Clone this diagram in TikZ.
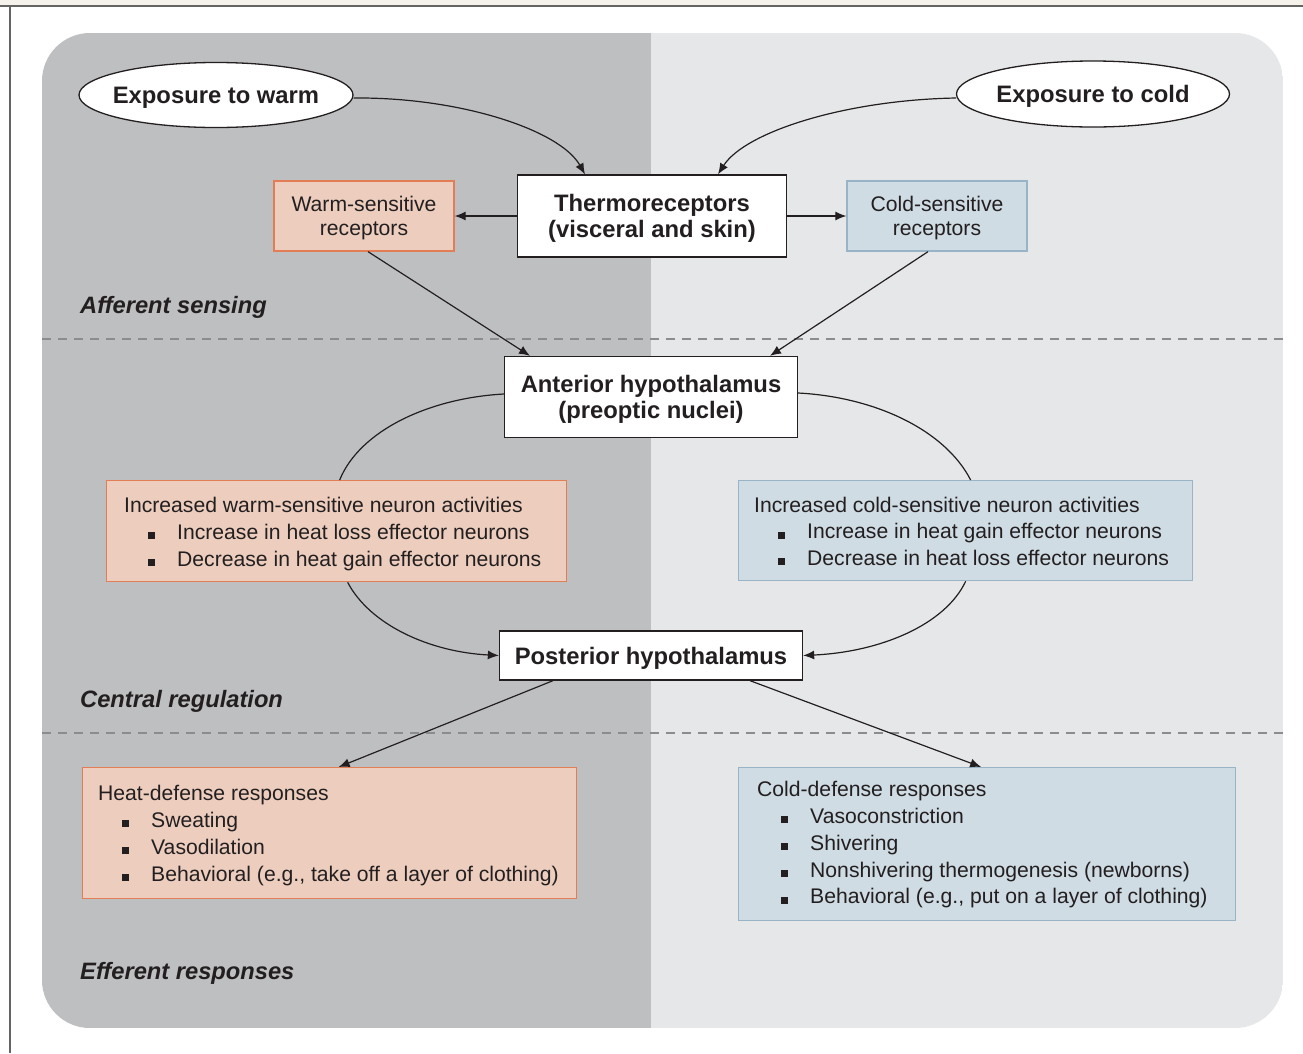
\documentclass[tikz,border=0pt]{standalone}
\usepackage{fontspec}
\setmainfont{Liberation Sans}
\usetikzlibrary{shapes.geometric,arrows.meta}
\definecolor{darkg}{RGB}{190,191,193}
\definecolor{lightg}{RGB}{230,231,232}
\definecolor{salfill}{RGB}{237,206,190}
\definecolor{salline}{RGB}{226,125,85}
\definecolor{bluefill}{RGB}{207,220,228}
\definecolor{blueline}{RGB}{152,180,198}
\definecolor{dashgray}{RGB}{140,140,140}
\definecolor{cream}{RGB}{244,242,234}
\definecolor{txtc}{RGB}{35,31,32}
\definecolor{framec}{RGB}{100,100,100}
\newcommand\regf{\fontsize{21.15}{26.8}\selectfont}
\newcommand\recf{\fontsize{21.15}{24.5}\selectfont}
\newcommand\boldf{\fontsize{23.8}{26.5}\selectfont\bfseries}
\newcommand\labf{\fontsize{23.7}{27}\selectfont\bfseries\itshape}
\newcommand\bulitem{\hspace*{24pt}\raisebox{0.3pt}{\rule{7pt}{7pt}}\hspace{22pt}}
\begin{document}
\begin{tikzpicture}[x=1pt,y=-1pt,
  every node/.style={text=txtc},
  whitebox/.style={draw=txtc, line width=1.3pt, fill=white, inner sep=0, align=center, font=\boldf, text depth=0pt},
  salbox/.style={draw=salline, line width=1.3pt, fill=salfill, inner sep=0, text depth=0pt},
  bluebox/.style={draw=blueline, line width=1.3pt, fill=bluefill, inner sep=0, text depth=0pt},
  oval/.style={ellipse, draw=txtc, line width=1.3pt, fill=white, inner sep=0, font=\boldf, text depth=0pt},
  boxtext/.style={anchor=west, align=left, inner sep=0, font=\regf, text depth=0pt},
  sectlabel/.style={anchor=base west, inner sep=0, font=\labf},
  conn/.style={draw=txtc, line width=1.2pt},
  arr/.style={conn, -{Latex[length=11pt,width=9pt]}},
  sepline/.style={draw=dashgray, line width=1.5pt, dash pattern=on 9pt off 7pt}
]
\useasboundingbox (0,0) rectangle (1303,1053);
\fill[white] (0,0) rectangle (1303,1053);
% top strip and frame
\fill[cream] (0,0) rectangle (1303,6);
\draw[framec, line width=1.5pt] (0,6) -- (1303,6);
\draw[framec, line width=1.5pt] (10,6) -- (10,1053);
% background panel
\begin{scope}
\clip[rounded corners=48pt] (42,33) rectangle (1283,1028);
\fill[darkg] (42,33) rectangle (651,1028);
\fill[lightg] (651,33) rectangle (1283,1028);
\end{scope}
% separators
\draw[sepline] (42,339) -- (1283,339);
\draw[sepline] (42,733) -- (1283,733);
% section labels
\node[sectlabel] (lab1) at (80,313) {Afferent sensing};
\node[sectlabel] (lab2) at (80,707) {Central regulation};
\node[sectlabel] (lab3) at (80,979) {Efferent responses};
% top ovals
\node[oval, minimum width=274, minimum height=65] (warm) at (216,95) {\makebox[0pt]{Exposure to warm}};
\node[oval, minimum width=273, minimum height=66] (cold) at (1093,94) {\makebox[0pt]{Exposure to cold}};
% thermoreceptors
\node[whitebox, minimum width=269, minimum height=82] (thermo) at (652,216) {Thermoreceptors\\(visceral and skin)};
\node[salbox, minimum width=180, minimum height=70, align=center, font=\recf] (wr) at (364,216) {Warm-sensitive\\receptors};
\node[bluebox, minimum width=180, minimum height=70, align=center, font=\recf] (cr) at (937,216) {Cold-sensitive\\receptors};
% anterior
\node[whitebox, minimum width=293, minimum height=81] (ant) at (651,397) {Anterior hypothalamus\\(preoptic nuclei)};
% activity boxes
\node[salbox, anchor=north west, minimum width=460, minimum height=101] (wact) at (106,480) {};
\node[boxtext] (wacttxt) at ([xshift=18pt, yshift=-0.5pt]wact.west) {Increased warm-sensitive neuron activities\\\bulitem Increase in heat loss effector neurons\\\bulitem Decrease in heat gain effector neurons};
\node[bluebox, anchor=north west, minimum width=454, minimum height=100] (cact) at (738,480) {};
\node[boxtext] (cacttxt) at ([xshift=16pt, yshift=-0.5pt]cact.west) {Increased cold-sensitive neuron activities\\\bulitem Increase in heat gain effector neurons\\\bulitem Decrease in heat loss effector neurons};
% posterior
\node[whitebox, minimum width=303, minimum height=49] (post) at (651,655.5) {Posterior hypothalamus};
% response boxes
\node[salbox, anchor=north west, minimum width=494, minimum height=131] (heat) at (82,767) {};
\node[boxtext] (heattxt) at ([xshift=16pt]heat.west) {Heat-defense responses\\\bulitem Sweating\\\bulitem Vasodilation\\\bulitem Behavioral (e.g., take off a layer of clothing)};
\node[bluebox, anchor=north west, minimum width=497, minimum height=153] (cdef) at (738,767) {};
\node[boxtext] (cdeftxt) at ([xshift=19pt, yshift=1.5pt]cdef.west) {Cold-defense responses\\\bulitem Vasoconstriction\\\bulitem Shivering\\\bulitem Nonshivering thermogenesis (newborns)\\\bulitem Behavioral (e.g., put on a layer of clothing)};
% connectors
\draw[arr] ([yshift=-3pt]warm.east) .. controls (460,97) and (560,130) .. ([xshift=-67pt]thermo.north);
\draw[arr] ([yshift=-4pt]cold.west) .. controls (845,100) and (745,132) .. ([xshift=66pt]thermo.north);
\draw[arr] (thermo.west) -- (wr.east);
\draw[arr] (thermo.east) -- (cr.west);
\draw[arr] ([xshift=4pt]wr.south) -- ([xshift=-121pt]ant.north);
\draw[arr] ([xshift=-9pt]cr.south) -- ([xshift=119pt]ant.north);
\draw[conn] ([yshift=3pt]ant.west) .. controls (430,398) and (360,430) .. ([xshift=3pt]wact.north);
\draw[conn] ([yshift=4pt]ant.east) .. controls (875,397) and (945,430) .. ([xshift=5pt]cact.north);
\draw[arr] ([xshift=11pt]wact.south) .. controls (370,625) and (430,652) .. (post.west);
\draw[arr] (cact.south) .. controls (945,625) and (880,652) .. (post.east);
\draw[arr] ([xshift=-98pt]post.south) -- ([xshift=9pt]heat.north);
\draw[arr] ([xshift=99pt]post.south) -- ([xshift=-6pt]cdef.north);
\end{tikzpicture}
\end{document}
